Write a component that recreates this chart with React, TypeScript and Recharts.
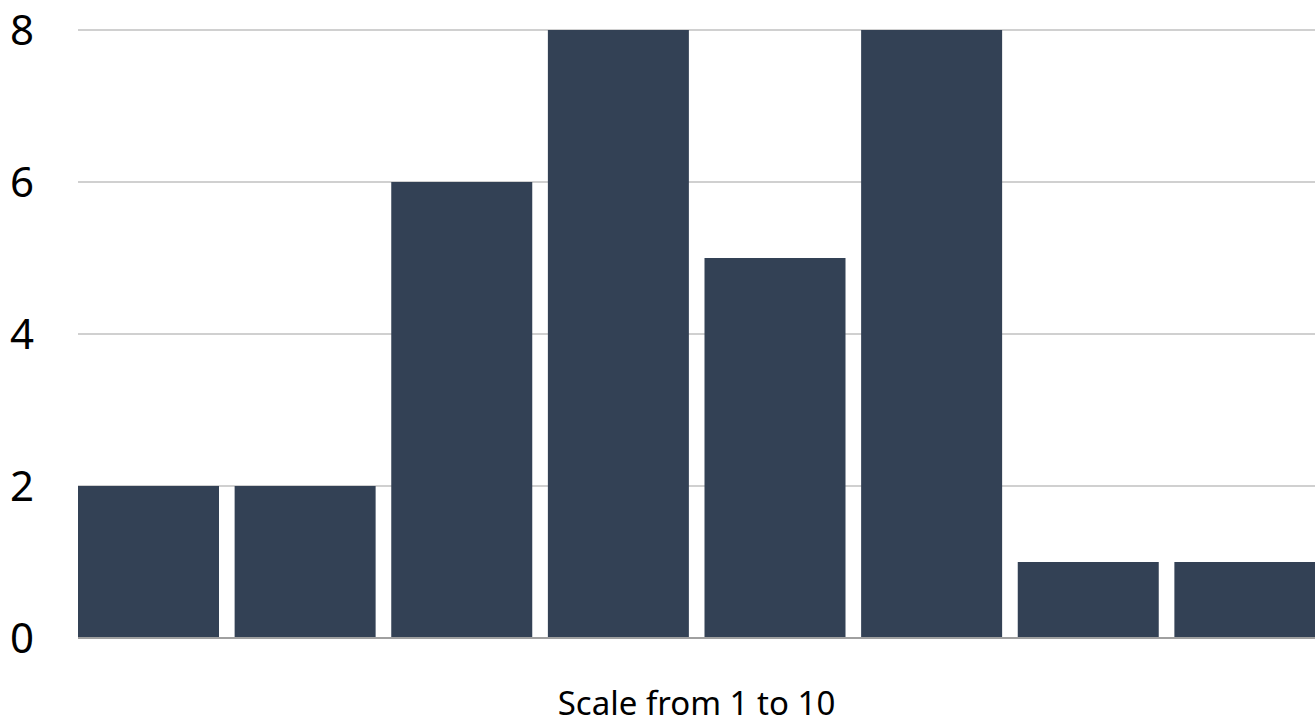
import { BarChart, Bar, XAxis, YAxis, CartesianGrid, ReferenceLine } from 'recharts';

const categories = ['1', '2', '3', '4', '5', '6', '7', '8'];
const counts = [2, 2, 6, 8, 5, 8, 1, 1];
const yTicks = [0, 2, 4, 6, 8];

const data = categories.map((name, i) => ({ name, value: counts[i] }));

const FONT = '"Noto Sans", sans-serif';

function YTick(props: any) {
  const { y, payload } = props;
  return (
    <text x={10} y={y} dy={15} fontSize={42} fontFamily={FONT} fill="#000" textAnchor="start">
      {payload.value}
    </text>
  );
}

function AxisTitle(props: any) {
  const { viewBox } = props;
  const cx = viewBox.x + viewBox.width / 2;
  return (
    <text x={cx} y={715} fontSize={33} fontFamily={FONT} fill="#000" textAnchor="middle">
      Scale from 1 to 10
    </text>
  );
}

export default function App() {
  return (
    <div style={{ position: 'absolute', left: 0, top: 0, background: '#fff' }}>
      <BarChart
        width={1315}
        height={724}
        data={data}
        margin={{ top: 30, right: 0, bottom: 0, left: 0 }}
        barCategoryGap={8}
      >
        <CartesianGrid vertical={false} stroke="#c0c0c0" strokeWidth={1.5} />
        <XAxis
          dataKey="name"
          tick={false}
          axisLine={false}
          tickLine={false}
          height={86}
          padding={{ left: -8, right: -8 }}
          label={<AxisTitle />}
        />
        <YAxis
          width={78}
          domain={[0, 8]}
          ticks={yTicks}
          axisLine={false}
          tickLine={false}
          tick={<YTick />}
        />
        <ReferenceLine y={0} stroke="#a0a0a0" strokeWidth={2} />
        <Bar dataKey="value" fill="#334155" isAnimationActive={false} />
      </BarChart>
    </div>
  );
}
